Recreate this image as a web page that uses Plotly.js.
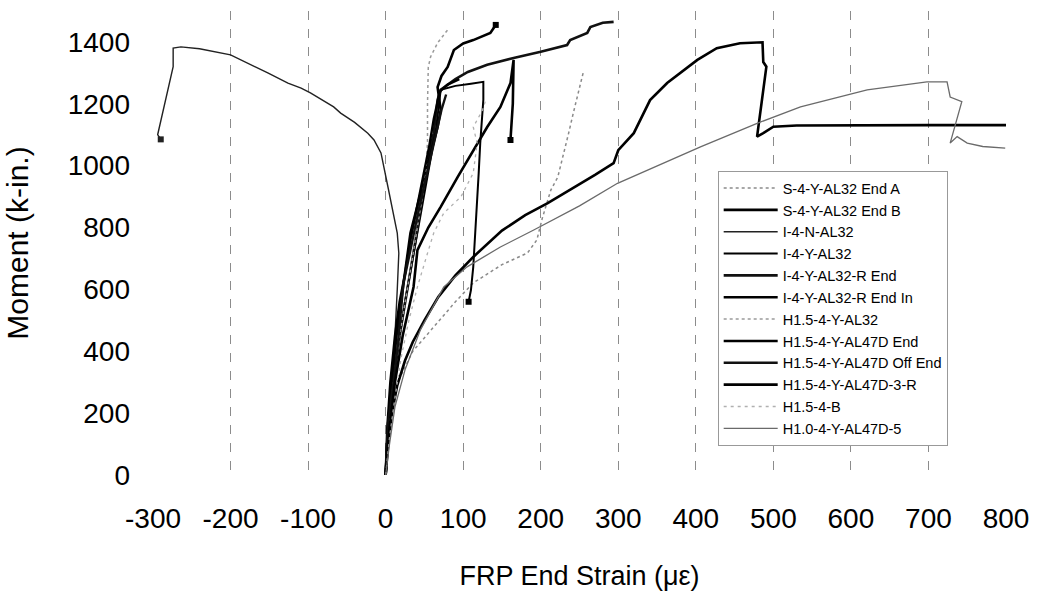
<!DOCTYPE html>
<html>
<head>
<meta charset="utf-8">
<script src="https://cdn.plot.ly/plotly-3.0.1.min.js"></script>
<style>html,body{margin:0;padding:0;background:#fff;}#chart{width:1038px;height:603px;}</style>
</head>
<body>
<div id="chart"></div>
<script>
// ---- data (FRP end strain in microstrain, moment in k-in.) ----
const seriesNames = [
  "S-4-Y-AL32 End A", "S-4-Y-AL32 End B", "I-4-N-AL32", "I-4-Y-AL32",
  "I-4-Y-AL32-R End", "I-4-Y-AL32-R End In", "H1.5-4-Y-AL32",
  "H1.5-4-Y-AL47D End", "H1.5-4-Y-AL47D Off End", "H1.5-4-Y-AL47D-3-R",
  "H1.5-4-B", "H1.0-4-Y-AL47D-5"
];

const sEndA_x = [0, 3, 8, 15, 35, 62, 90, 113, 150, 183, 195, 202, 208, 213, 222, 230, 236, 242, 248, 255];
const sEndA_y = [0, 80, 180, 297, 400, 479, 560, 621, 680, 718, 760, 830, 880, 921, 963, 1040, 1105, 1170, 1230, 1303];

const sEndB_x = [0, 2, 8, 15, 25, 35, 50, 68, 90, 113, 150, 180, 209, 240, 270, 294, 300, 320, 341, 363, 385, 402, 427, 457, 486, 487, 491, 479, 487, 500, 530, 600, 700, 800];
const sEndB_y = [0, 80, 200, 290, 370, 430, 500, 576, 645, 705, 790, 840, 879, 925, 970, 1008, 1050, 1105, 1212, 1267, 1310, 1342, 1380, 1396, 1399, 1335, 1320, 1094, 1105, 1126, 1130, 1131, 1131, 1131];

const i4N_x = [0, 3, 8, 12, 15, 17, 15, 10, 3, -6, -15, -23, -40, -58, -67, -97, -109, -126, -152, -200, -240, -264, -274, -274, -294, -290];
const i4N_y = [0, 150, 300, 450, 600, 717, 782, 847, 931, 1041, 1083, 1105, 1140, 1170, 1190, 1235, 1251, 1267, 1300, 1358, 1378, 1384, 1380, 1320, 1100, 1085];

const i4Y_x = [0, 3, 8, 15, 25, 35, 45, 55, 65, 71, 90, 110, 126, 126, 124, 122, 120, 116, 113, 110, 107];
const i4Y_y = [0, 120, 250, 400, 560, 700, 850, 980, 1120, 1245, 1258, 1265, 1271, 1213, 1150, 1073, 976, 800, 673, 598, 560];

const i4RE_x = [0, 4, 10, 18, 28, 40, 54, 62, 67, 71, 90, 106, 131, 165, 200, 234, 238, 260, 264, 280, 294];
const i4RE_y = [0, 150, 300, 450, 600, 780, 1018, 1105, 1213, 1245, 1280, 1303, 1326, 1348, 1368, 1390, 1406, 1429, 1448, 1462, 1465];

const i4REI_x = [0, 3, 8, 14, 22, 32, 44, 54, 62, 67, 71, 67, 72, 80, 88, 100, 113, 122, 135, 142];
const i4REI_y = [0, 150, 300, 450, 600, 782, 900, 996, 1070, 1125, 1180, 1254, 1290, 1319, 1374, 1395, 1406, 1416, 1429, 1455];

const h15AL32_x = [0, 4, 10, 18, 28, 38, 46, 52, 54, 54, 55, 58, 67, 80];
const h15AL32_y = [0, 150, 300, 450, 600, 750, 880, 980, 1080, 1200, 1319, 1352, 1397, 1439];

const h15End_x = [0, 2, 6, 12, 18, 25, 32, 40, 48, 56, 62, 66, 70, 80, 95];
const h15End_y = [0, 150, 300, 450, 560, 650, 760, 860, 960, 1060, 1150, 1200, 1240, 1262, 1280];

const h15Off_x = [0, 3, 10, 15, 19, 23, 32, 42, 52, 60, 66, 72, 78];
const h15Off_y = [0, 168, 297, 404, 511, 620, 727, 850, 960, 1050, 1120, 1180, 1230];

const h153R_x = [0, 5, 12, 22, 36, 41, 55, 71, 93, 113, 131, 148, 161, 165, 164, 161];
const h153R_y = [0, 150, 300, 450, 608, 727, 800, 867, 964, 1051, 1125, 1190, 1267, 1342, 1200, 1083];

const h15B_x = [0, 5, 12, 20, 30, 41, 54, 62, 75, 97, 113, 118, 113, 125, 129];
const h15B_y = [0, 120, 250, 380, 500, 608, 717, 782, 847, 899, 976, 1073, 1125, 1180, 1212];

const h10_x = [0, 5, 12, 25, 45, 75, 105, 148, 191, 250, 299, 350, 406, 479, 535, 621, 698, 724, 728, 743, 728, 737, 750, 770, 799];
const h10_y = [0, 100, 220, 340, 470, 608, 673, 737, 792, 870, 943, 1000, 1061, 1137, 1190, 1245, 1271, 1271, 1222, 1207, 1073, 1094, 1073, 1062, 1057];

const xTicks = [-300, -200, -100, 0, 100, 200, 300, 400, 500, 600, 700, 800];
const yTicks = [0, 200, 400, 600, 800, 1000, 1200, 1400];

// ---- styles ----
const xs = [sEndA_x, sEndB_x, i4N_x, i4Y_x, i4RE_x, i4REI_x, h15AL32_x, h15End_x, h15Off_x, h153R_x, h15B_x, h10_x];
const ys = [sEndA_y, sEndB_y, i4N_y, i4Y_y, i4RE_y, i4REI_y, h15AL32_y, h15End_y, h15Off_y, h153R_y, h15B_y, h10_y];
const styles = [
  {color: "#8a8a8a", width: 1.5, dash: "dot"},
  {color: "#000000", width: 2.6, dash: "solid"},
  {color: "#222222", width: 1.4, dash: "solid"},
  {color: "#000000", width: 2.0, dash: "solid"},
  {color: "#111111", width: 2.6, dash: "solid"},
  {color: "#000000", width: 2.6, dash: "solid"},
  {color: "#9a9a9a", width: 1.5, dash: "dot"},
  {color: "#000000", width: 2.4, dash: "solid"},
  {color: "#111111", width: 2.4, dash: "solid"},
  {color: "#000000", width: 2.6, dash: "solid"},
  {color: "#b0b0b0", width: 1.3, dash: "3px,4px"},
  {color: "#6a6a6a", width: 1.3, dash: "solid"}
];
// which traces show an end blob at their last point
const endMarker = [false, false, true, true, false, true, false, false, false, true, false, false];

const traces = seriesNames.map((name, i) => ({
  type: "scatter",
  mode: "lines",
  name: name,
  x: xs[i],
  y: ys[i],
  line: styles[i],
  showlegend: true
}));

// end blobs (taken from the last point of each series), not in legend
seriesNames.forEach((name, i) => {
  if (!endMarker[i]) return;
  const n = xs[i].length;
  traces.push({
    type: "scatter", mode: "markers", showlegend: false, hoverinfo: "skip",
    x: [xs[i][n - 1]], y: [ys[i][n - 1]],
    marker: {size: 6, symbol: "square", color: styles[i].color}
  });
});

const FONT = "Liberation Sans, Arial, Helvetica, sans-serif";

const layout = {
  width: 1038,
  height: 603,
  margin: {l: 153, r: 32, t: 11, b: 128, pad: 0},
  paper_bgcolor: "#ffffff",
  plot_bgcolor: "#ffffff",
  font: {family: FONT, color: "#000"},
  showlegend: true,
  legend: {
    x: 0.662, y: 0.655, xanchor: "left", yanchor: "top",
    bgcolor: "#ffffff", bordercolor: "#999", borderwidth: 1,
    font: {family: FONT, size: 14.5, color: "#000"},
    itemwidth: 54,
    tracegroupgap: 0
  },
  xaxis: {
    range: [-300, 800],
    tickmode: "array", tickvals: xTicks, ticktext: xTicks.map(String),
    showgrid: true, gridcolor: "#8c8c8c", gridwidth: 1, griddash: "dash",
    zeroline: false, showline: false, ticks: "",
    tickfont: {family: FONT, size: 28, color: "#000"},
    ticklabelstandoff: 24,
    automargin: false,
    title: {text: "FRP End Strain (\u03bc\u03b5)", font: {family: FONT, size: 27, color: "#000"}, standoff: 33}
  },
  yaxis: {
    range: [0, 1500],
    tickmode: "array", tickvals: yTicks, ticktext: yTicks.map(String),
    showgrid: false, zeroline: false, showline: false, ticks: "",
    tickfont: {family: FONT, size: 28, color: "#000"},
    ticklabelstandoff: 22,
    automargin: false,
    title: {text: "Moment (k-in.)", font: {family: FONT, size: 30, color: "#000"}, standoff: 30}
  }
};

Plotly.newPlot("chart", traces, layout, {displayModeBar: false, staticPlot: true});
</script>
</body>
</html>
